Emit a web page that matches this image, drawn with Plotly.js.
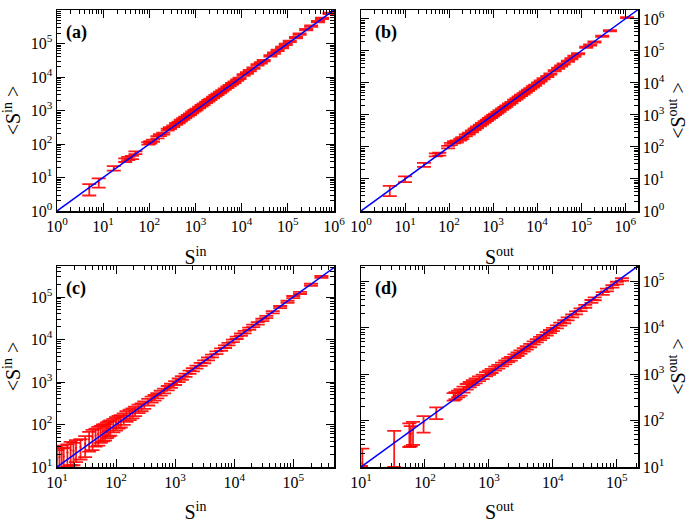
<!DOCTYPE html>
<html>
<head>
<meta charset="utf-8">
<script src="https://cdn.plot.ly/plotly-3.0.1.min.js"></script>
<style>html,body{margin:0;padding:0;background:#fff}#chart{width:697px;height:523px}</style>
</head>
<body>
<div id="chart"></div>
<script>
// ---- Panel (a): s_in vs <s_in>
const aX = [5, 8, 17, 30, 35, 42, 50, 95, 105, 120, 150, 170, 200, 250, 280, 330, 380, 430, 480, 540, 600, 680, 760, 850, 950, 1050, 1200, 1350, 1500, 1700, 1900, 2100, 2400, 2700, 3000, 3400, 3800, 4300, 4900, 5500, 6200, 7000, 8000, 9000, 11000, 13000, 15000, 18000, 22000, 26000, 30000, 42000, 50000, 60000, 75000, 90000, 110000, 150000, 180000, 250000, 320000, 450000, 550000, 800000];
const aY = [4.6, 7.2, 19, 33, 37, 40, 55, 105, 112, 125, 160, 185, 205, 270, 300, 340, 400, 440, 500, 560, 620, 700, 780, 880, 980, 1080, 1230, 1380, 1530, 1750, 1950, 2150, 2450, 2750, 3050, 3450, 3850, 4350, 4950, 5550, 6300, 7000, 8100, 9100, 11500, 13200, 15500, 18500, 23000, 26500, 31000, 43000, 52000, 62000, 76000, 95000, 115000, 150000, 190000, 260000, 330000, 450000, 560000, 800000];
const aErr = [1.7, 2.2, 3, 4, 4, 4.5, 5, 9, 9, 10, 12, 13, 15, 18, 20, 22, 25, 28, 30, 34, 38, 42, 46, 52, 58, 64, 72, 80, 90, 100, 110, 120, 140, 155, 170, 190, 210, 240, 270, 300, 340, 380, 430, 480, 590, 700, 800, 950, 1150, 1350, 1600, 2200, 2600, 3100, 3900, 4700, 5700, 7600, 9500, 13000, 16500, 23000, 28000, 40000];

// ---- Panel (b): s_out vs <s_out>
const bX = [4.5, 10, 27, 50, 60, 95, 110, 130, 150, 180, 200, 240, 280, 330, 380, 430, 500, 560, 640, 720, 800, 900, 1000, 1100, 1250, 1400, 1600, 1800, 2000, 2300, 2600, 3000, 3400, 3800, 4300, 4900, 5500, 6200, 7000, 8000, 9000, 10500, 12000, 14000, 17000, 20000, 25000, 30000, 35000, 40000, 50000, 60000, 70000, 85000, 130000, 160000, 200000, 300000, 450000, 1100000];
const bY = [4.5, 10, 28, 57, 60, 100, 125, 140, 150, 170, 190, 230, 260, 310, 360, 410, 470, 530, 600, 680, 760, 850, 950, 1050, 1180, 1330, 1520, 1700, 1900, 2200, 2450, 2850, 3200, 3600, 4100, 4600, 5200, 5900, 6600, 7600, 8500, 10000, 11500, 13500, 16000, 19000, 24000, 29000, 34000, 39000, 48000, 57000, 68000, 82000, 130000, 155000, 190000, 290000, 430000, 1100000];
const bErr = [1.6, 2, 4, 6, 6, 9, 10, 11, 12, 13, 14, 16, 18, 21, 24, 27, 30, 33, 37, 41, 45, 50, 55, 60, 66, 74, 84, 93, 104, 120, 130, 150, 165, 185, 210, 230, 260, 290, 320, 370, 410, 480, 540, 630, 750, 880, 1100, 1300, 1550, 1750, 2150, 2550, 3000, 3600, 5700, 6800, 8300, 12500, 18500, 45000];

// ---- Panel (c): s_in vs <s_in>
const cX = [10, 11, 12, 13, 15, 17, 19, 21, 25, 30, 35, 40, 45, 50, 55, 60, 65, 70, 75, 80, 90, 100, 110, 120, 135, 150, 170, 190, 210, 240, 270, 300, 350, 400, 450, 500, 570, 650, 750, 850, 1000, 1150, 1300, 1500, 1750, 2000, 2300, 2700, 3100, 3600, 4200, 5000, 6000, 7000, 8000, 9500, 11000, 13000, 15000, 18000, 21000, 25000, 30000, 35000, 45000, 60000, 80000, 100000, 130000, 200000, 300000];
const cY = [15, 17, 20, 18, 22, 25, 24, 28, 30, 35, 45, 50, 55, 60, 65, 70, 72, 80, 85, 90, 100, 110, 120, 125, 140, 160, 175, 190, 210, 240, 260, 290, 340, 390, 430, 480, 550, 620, 720, 820, 950, 1100, 1250, 1450, 1700, 1950, 2250, 2600, 3000, 3500, 4100, 4900, 5800, 6800, 7800, 9300, 11000, 13000, 15000, 18000, 21000, 24000, 29000, 34000, 44000, 58000, 78000, 100000, 125000, 195000, 300000];
const cErr = [10, 10, 12, 10, 12, 14, 13, 15, 15, 18, 22, 25, 25, 28, 28, 30, 30, 32, 33, 35, 35, 38, 40, 40, 42, 45, 48, 50, 52, 55, 55, 58, 60, 62, 65, 68, 72, 78, 85, 90, 100, 110, 120, 130, 150, 170, 190, 210, 240, 270, 310, 360, 420, 480, 540, 630, 730, 850, 980, 1150, 1350, 1550, 1800, 2100, 2700, 3500, 4600, 5800, 7200, 11000, 16000];

// ---- Panel (d): s_out vs <s_out>
const dX = [10, 10.5, 33, 57, 60, 65, 95, 150, 280, 300, 330, 360, 400, 450, 500, 560, 620, 700, 800, 900, 1000, 1100, 1250, 1400, 1600, 1800, 2000, 2200, 2500, 2800, 3100, 3500, 3900, 4400, 5000, 5600, 6300, 7000, 8000, 9000, 10000, 11500, 13000, 15000, 17000, 20000, 23000, 27000, 32000, 40000, 45000, 60000, 70000, 85000, 100000, 120000];
const dY = [10, 12, 35, 57, 52, 62, 90, 150, 330, 350, 380, 410, 470, 540, 600, 660, 720, 800, 880, 1000, 1080, 1180, 1320, 1450, 1620, 1800, 2000, 2150, 2450, 2700, 3000, 3350, 3700, 4150, 4700, 5250, 5900, 6500, 7400, 8300, 9200, 10500, 12000, 13500, 15500, 18000, 21000, 24500, 29000, 37000, 42000, 55000, 65000, 78000, 92000, 110000];
const dErr = [0.5, 13, 25, 30, 24, 32, 35, 42, 60, 62, 64, 66, 70, 74, 78, 82, 86, 92, 98, 105, 112, 120, 130, 140, 155, 170, 185, 200, 220, 240, 260, 290, 320, 350, 390, 430, 480, 520, 590, 650, 710, 800, 900, 1000, 1150, 1300, 1500, 1750, 2050, 2550, 2900, 3700, 4300, 5100, 6000, 7100];

// ---- reference diagonal lines y = x
const diagA = [1, 1000000];
const diagB = [1, 2000000];
const diagC = [10, 540000];
const diagD = [10, 220000];

// ---- tick labels
const ticks0to6 = [1, 10, 100, 1000, 10000, 100000, 1000000];
const labels0to6 = ['10<sup>0</sup>', '10<sup>1</sup>', '10<sup>2</sup>', '10<sup>3</sup>', '10<sup>4</sup>', '10<sup>5</sup>', '10<sup>6</sup>'];
const ticks1to5 = [10, 100, 1000, 10000, 100000];
const labels1to5 = ['10<sup>1</sup>', '10<sup>2</sup>', '10<sup>3</sup>', '10<sup>4</sup>', '10<sup>5</sup>'];

const panelLabels = ['(a)', '(b)', '(c)', '(d)'];
const xTitles = ['S<sup>in</sup>', 'S<sup>out</sup>', 'S<sup>in</sup>', 'S<sup>out</sup>'];
const yTitles = ['&lt;S<sup>in</sup> &gt;', '&lt;S<sup>out</sup> &gt;', '&lt;S<sup>in</sup> &gt;', '&lt;S<sup>out</sup> &gt;'];

const FONT = '"Liberation Serif", "Times New Roman", serif';
const RED = 'rgba(255,0,0,0.9)';

function errTrace(x, y, e, n) {
  return {
    x: x, y: y, type: 'scatter', mode: 'markers',
    xaxis: 'x' + (n === 1 ? '' : n), yaxis: 'y' + (n === 1 ? '' : n),
    marker: {size: 2, color: 'red'},
    error_y: {type: 'data', array: e, visible: true, color: RED, thickness: 1.8, width: 7},
    hoverinfo: 'skip', showlegend: false
  };
}
function lineTrace(d, n) {
  return {
    x: d, y: d, type: 'scatter', mode: 'lines',
    xaxis: 'x' + (n === 1 ? '' : n), yaxis: 'y' + (n === 1 ? '' : n),
    line: {color: '#0000ff', width: 1.5}, showlegend: false, hoverinfo: 'skip'
  };
}

const W = 697, H = 523;
function xdom(l, r) { return [l / W, r / W]; }
function ydom(t, b) { return [1 - b / H, 1 - t / H]; }

function axis(dom, range, tv, tt, title, anchor, side, isY) {
  const ax = {
    type: 'log', domain: dom, range: range, anchor: anchor,
    tickmode: 'array', tickvals: tv, ticktext: tt,
    ticks: 'inside', ticklen: 8, tickwidth: 1, tickcolor: '#000',
    minor: {ticks: 'inside', ticklen: 4, tickwidth: 1, tickcolor: '#000', dtick: 'D1', showgrid: false},
    showline: true, linecolor: '#000', linewidth: 1.5, mirror: 'allticks',
    showgrid: false, zeroline: false,
    tickfont: {family: FONT, size: 16, color: '#000'},
    title: {text: title, font: {family: FONT, size: 20, color: '#000'}, standoff: isY ? 5 : 16}
  };
  if (side) ax.side = side;
  return ax;
}

const data = [
  errTrace(aX, aY, aErr, 1), lineTrace(diagA, 1),
  errTrace(bX, bY, bErr, 2), lineTrace(diagB, 2),
  errTrace(cX, cY, cErr, 3), lineTrace(diagC, 3),
  errTrace(dX, dY, dErr, 4), lineTrace(diagD, 4)
];

const layout = {
  width: W, height: H,
  margin: {l: 0, r: 0, t: 0, b: 0},
  paper_bgcolor: '#fff', plot_bgcolor: '#fff',
  showlegend: false,
  xaxis:  axis(xdom(57, 334),  [0, 6],    ticks0to6, labels0to6, xTitles[0], 'y',  null, false),
  yaxis:  axis(ydom(10, 211),  [0, 6],    ticks0to6, labels0to6, yTitles[0], 'x',  'left', true),
  xaxis2: axis(xdom(361, 638), [0, 6.29], ticks0to6, labels0to6, xTitles[1], 'y2', null, false),
  yaxis2: axis(ydom(10, 211),  [0, 6.28], ticks0to6, labels0to6, yTitles[1], 'x2', 'right', true),
  xaxis3: axis(xdom(57, 334),  [1, 5.69], ticks1to5, labels1to5, xTitles[2], 'y3', null, false),
  yaxis3: axis(ydom(266, 467), [1, 5.73], ticks1to5, labels1to5, yTitles[2], 'x3', 'left', true),
  xaxis4: axis(xdom(361, 638), [1, 5.33], ticks1to5, labels1to5, xTitles[3], 'y4', null, false),
  yaxis4: axis(ydom(266, 467), [1, 5.33], ticks1to5, labels1to5, yTitles[3], 'x4', 'right', true),
  annotations: panelLabels.map((t, i) => ({
    text: '<b>' + t + '</b>',
    xref: 'x' + (i === 0 ? '' : i + 1) + ' domain', yref: 'y' + (i === 0 ? '' : i + 1) + ' domain',
    x: (i % 2 === 0) ? 0.025 : 0.045, y: 0.89, xanchor: 'left', yanchor: 'middle',
    showarrow: false, font: {family: FONT, size: 18, color: '#000'}
  }))
};

Plotly.newPlot('chart', data, layout, {displayModeBar: false, staticPlot: true});
</script>
</body>
</html>
